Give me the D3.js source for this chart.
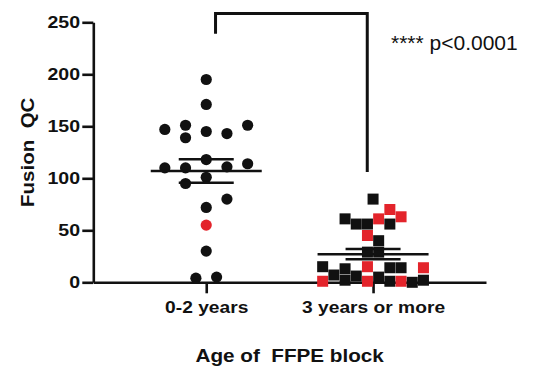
<!DOCTYPE html>
<html>
<head>
<meta charset="utf-8">
<script src="https://cdn.jsdelivr.net/npm/d3@7"></script>
<style>
  html, body { margin: 0; padding: 0; background: #fff; }
  svg { display: block; font-family: "Liberation Sans", Arial, sans-serif; }
</style>
</head>
<body>
<svg id="chart" width="533" height="367"></svg>
<script>
// ---- data ----
const categories = ["0-2 years", "3 years or more"];
const yTicks = [0, 50, 100, 150, 200, 250];

const group1Values = [195, 171, 147, 151, 139, 145, 143, 151, 118, 110, 110, 111, 114, 101, 95, 80, 72, 55, 30, 4, 5];
const group1Slots  = [0, 0, -2, -1, -1, 0, 1, 2, 0, -2, -1, 1, 2, 0, -1, 1, 0, 0, 0, -0.5, 0.5];
const group1Red    = [0, 0, 0, 0, 0, 0, 0, 0, 0, 0, 0, 0, 0, 0, 0, 0, 0, 1, 0, 0, 0];

const group2Values = [80, 70, 63, 61, 61, 56, 56, 56, 45, 40, 29, 29, 15, 1, 7, 13, 2, 6, 15, 1, 5, 14, 1, 14, 1, 0, 14, 2];
const group2Slots  = [0, 1.5, 2.5, -2.5, 0.5, -1.5, -0.5, 1.5, -0.5, 0.5, -0.5, 0.5, -4.5, -4.5, -3.5, -2.5, -2.5, -1.5, -0.5, -0.5, 0.5, 1.5, 1.5, 2.5, 2.5, 3.5, 4.5, 4.5];
const group2Red    = [0, 1, 1, 0, 1, 0, 0, 0, 1, 0, 0, 0, 0, 1, 0, 0, 0, 0, 1, 1, 0, 0, 0, 0, 1, 0, 1, 0];

const yTitle = "Fusion  QC";
const xTitle = "Age of  FFPE block";
const pText = "**** p<0.0001";

// ---- layout ----
const svg = d3.select("#chart");
const plotLeft = 93.3, plotRight = 486, plotTop = 22.3, plotBottom = 282.3;
const BLACK = "#111111", RED = "#e3242b";

const x = d3.scalePoint().domain(categories).range([plotLeft, plotRight]).padding(0.677);
const y = d3.scaleLinear().domain([0, 250]).range([plotBottom, plotTop]);

// axes
const yAxis = svg.append("g")
  .attr("transform", `translate(${plotLeft},0)`)
  .call(d3.axisLeft(y).tickValues(yTicks).tickSize(11).tickSizeOuter(0).tickPadding(0));
yAxis.select(".domain").attr("stroke", BLACK).attr("stroke-width", 2.6);
yAxis.selectAll(".tick line").attr("stroke", BLACK).attr("stroke-width", 2.6);
yAxis.selectAll(".tick text")
  .attr("x", -13.3 / 1.15)
  .attr("transform", "scale(1.15,1)")
  .attr("fill", BLACK)
  .style("font-size", "17px").style("font-weight", "bold")
  .style("font-family", "'Liberation Sans', Arial, sans-serif");

const xAxis = svg.append("g")
  .attr("transform", `translate(0,${plotBottom})`)
  .call(d3.axisBottom(x).tickSize(11).tickSizeOuter(0).tickPadding(0));
xAxis.select(".domain").attr("stroke", BLACK).attr("stroke-width", 2.6);
xAxis.selectAll(".tick line").attr("stroke", BLACK).attr("stroke-width", 2.6);
xAxis.selectAll(".tick text")
  .attr("y", 31).attr("dy", 0).attr("x", 0)
  .attr("transform", "scale(1.13,1)")
  .attr("fill", BLACK)
  .style("font-size", "17px").style("font-weight", "bold")
  .style("font-family", "'Liberation Sans', Arial, sans-serif");

// titles
svg.append("text")
  .attr("transform", `translate(${(plotLeft + plotRight) / 2},362) scale(1.15,1)`)
  .attr("text-anchor", "middle")
  .attr("fill", BLACK)
  .style("font-size", "18px").style("font-weight", "bold")
  .style("white-space", "pre")
  .text(xTitle);

svg.append("text")
  .attr("transform", `translate(34,${(plotTop + plotBottom) / 2}) rotate(-90) scale(1.08,1)`)
  .attr("text-anchor", "middle")
  .attr("fill", BLACK)
  .style("font-size", "19px").style("font-weight", "bold")
  .style("white-space", "pre")
  .text(yTitle);

// marks, mean & SEM lines
function stats(vals) {
  const m = d3.mean(vals);
  const sem = d3.deviation(vals) / Math.sqrt(vals.length);
  return { m, sem };
}
const groups = [
  { cat: categories[0], vals: group1Values, slots: group1Slots, red: group1Red, step: 20.7, shape: "circle" },
  { cat: categories[1], vals: group2Values, slots: group2Slots, red: group2Red, step: 11.2, shape: "square" }
];

groups.forEach(g => {
  const cx = x(g.cat);
  const marks = svg.append("g");
  g.vals.forEach((v, i) => {
    const px = cx + g.slots[i] * g.step;
    const py = y(v);
    const fill = g.red[i] ? RED : BLACK;
    if (g.shape === "circle") {
      marks.append("circle").attr("cx", px).attr("cy", py).attr("r", 5.6).attr("fill", fill);
    } else {
      marks.append("rect").attr("x", px - 5.5).attr("y", py - 5.5)
        .attr("width", 11).attr("height", 11).attr("fill", fill);
    }
  });
  const s = stats(g.vals);
  const lines = svg.append("g").attr("stroke", BLACK).attr("stroke-width", 2.5);
  lines.append("line").attr("x1", cx - 55.5).attr("x2", cx + 55.5).attr("y1", y(s.m)).attr("y2", y(s.m));
  [s.m + s.sem, s.m - s.sem].forEach(v => {
    lines.append("line").attr("x1", cx - 27.5).attr("x2", cx + 27.5).attr("y1", y(v)).attr("y2", y(v));
  });
});

// significance bracket
const bx1 = x(categories[0]) + 9.3, bx2 = x(categories[1]) - 5.8;
svg.append("path")
  .attr("d", `M${bx1},${y(239)} V${y(258.5)} H${bx2} V${y(106)}`)
  .attr("fill", "none").attr("stroke", BLACK).attr("stroke-width", 3);

svg.append("text")
  .attr("x", 391).attr("y", 50)
  .attr("fill", BLACK)
  .style("font-size", "21px")
  .text(pText);
</script>
</body>
</html>
